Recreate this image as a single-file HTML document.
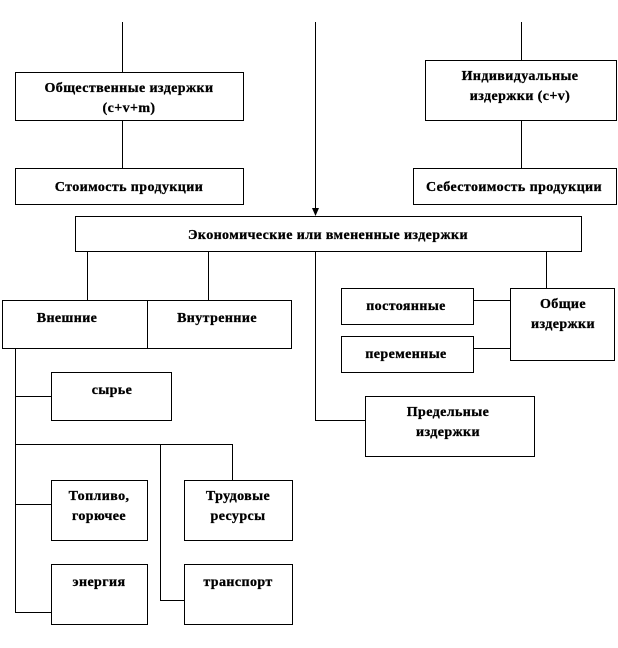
<!DOCTYPE html>
<html><head><meta charset="utf-8"><style>
html,body{margin:0;padding:0;background:#fff;}
svg{display:block}
text{font-family:"Liberation Serif","DejaVu Serif",serif;font-weight:bold;font-size:14px;fill:#000;text-anchor:middle;letter-spacing:0.4px;stroke:#000;stroke-width:0.3px}
</style></head><body>
<svg width="618" height="648" viewBox="0 0 618 648" xmlns="http://www.w3.org/2000/svg">
<g fill="none" stroke="#000" stroke-width="1">
<line x1="122.5" y1="22" x2="122.5" y2="72"/>
<line x1="122.5" y1="120" x2="122.5" y2="168"/>
<line x1="315.5" y1="22" x2="315.5" y2="209"/>
<line x1="521.5" y1="22" x2="521.5" y2="60"/>
<line x1="521.5" y1="120" x2="521.5" y2="168"/>
<rect x="15.5" y="72.5" width="228" height="48"/>
<rect x="15.5" y="168.5" width="228" height="36"/>
<rect x="425.5" y="60.5" width="191" height="60"/>
<rect x="413.5" y="168.5" width="203" height="36"/>
<rect x="75.5" y="216.5" width="506" height="35"/>
<line x1="87.5" y1="252" x2="87.5" y2="300"/>
<line x1="208.5" y1="252" x2="208.5" y2="300"/>
<line x1="546.5" y1="252" x2="546.5" y2="288"/>
<line x1="315.5" y1="252" x2="315.5" y2="420.5"/>
<line x1="315" y1="420.5" x2="365" y2="420.5"/>
<rect x="2.5" y="300.5" width="145" height="48"/>
<rect x="147.5" y="300.5" width="144" height="48"/>
<rect x="341.5" y="288.5" width="132" height="36"/>
<rect x="341.5" y="336.5" width="132" height="36"/>
<rect x="510.5" y="288.5" width="104" height="72"/>
<line x1="473" y1="300.5" x2="510" y2="300.5"/>
<line x1="473" y1="348.5" x2="510" y2="348.5"/>
<rect x="365.5" y="396.5" width="169" height="60"/>
<line x1="15.5" y1="348" x2="15.5" y2="612.5"/>
<line x1="15" y1="396.5" x2="51" y2="396.5"/>
<rect x="51.5" y="372.5" width="120" height="48"/>
<line x1="15" y1="444.5" x2="232.5" y2="444.5"/>
<line x1="232.5" y1="444" x2="232.5" y2="480"/>
<line x1="160.5" y1="444" x2="160.5" y2="600.5"/>
<line x1="160" y1="600.5" x2="184" y2="600.5"/>
<line x1="15" y1="504.5" x2="51" y2="504.5"/>
<line x1="15" y1="612.5" x2="51" y2="612.5"/>
<rect x="51.5" y="480.5" width="96" height="60"/>
<rect x="184.5" y="480.5" width="108" height="60"/>
<rect x="51.5" y="564.5" width="96" height="60"/>
<rect x="184.5" y="564.5" width="108" height="60"/>
</g>
<polygon points="312,208 319,208 315.5,216" fill="#000"/>
<text x="129" y="92">Общественные издержки</text>
<text x="129" y="112">(c+v+m)</text>
<text x="129" y="191">Стоимость продукции</text>
<text x="520" y="80">Индивидуальные</text>
<text x="520" y="100">издержки (c+v)</text>
<text x="514" y="191">Себестоимость продукции</text>
<text x="328" y="239">Экономические или вмененные издержки</text>
<text x="67" y="322">Внешние</text>
<text x="217" y="322">Внутренние</text>
<text x="406" y="310">постоянные</text>
<text x="406" y="358">переменные</text>
<text x="563" y="308">Общие</text>
<text x="563" y="328">издержки</text>
<text x="448" y="416">Предельные</text>
<text x="448" y="436">издержки</text>
<text x="112" y="394">сырье</text>
<text x="99" y="500">Топливо,</text>
<text x="99" y="520">горючее</text>
<text x="238" y="500">Трудовые</text>
<text x="238" y="520">ресурсы</text>
<text x="99" y="586">энергия</text>
<text x="238" y="586">транспорт</text>
</svg>
</body></html>
